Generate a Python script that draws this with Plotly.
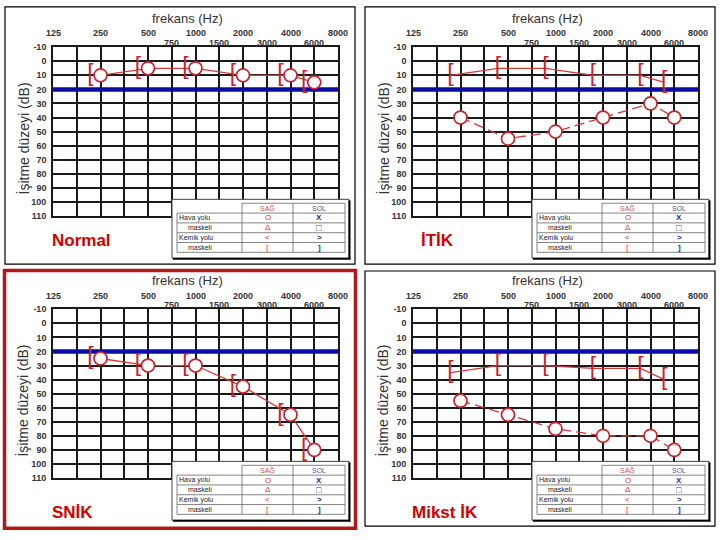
import math
import plotly.graph_objects as go

W, H = 720, 540

# ---------------- data ----------------
PANEL_TITLES = ["Normal", "İTİK", "SNİK", "Mikst İK"]
AIR_FREQS = [250, 500, 1000, 2000, 4000, 6000]
NORMAL_AIR = [10, 5, 5, 10, 10, 15]
NORMAL_BONE = [10, 5, 5, 10, 10, 15]
ITIK_AIR = [40, 55, 50, 40, 30, 40]
ITIK_BONE = [10, 5, 5, 10, 10, 15]
SNIK_AIR = [25, 30, 30, 45, 65, 90]
SNIK_BONE = [25, 30, 30, 45, 65, 90]
MIKST_AIR = [55, 65, 75, 80, 80, 90]
MIKST_BONE = [35, 30, 30, 32, 32, 40]
LIMIT_DB = 20
FREQ_TOP = [125, 250, 500, 1000, 2000, 4000, 8000]
FREQ_BOTTOM = [750, 1500, 3000, 6000]
DB_TICKS = list(range(-10, 111, 10))
LEGEND_HEAD = ["SAĞ", "SOL"]
LEGEND_ROWS = ["Hava yolu", "maskeli", "Kemik yolu", "maskeli"]
LEGEND_RIGHT = ["O", "Δ", "<", "["]
LEGEND_LEFT = ["X", "□", ">", "]"]

AIRS = [NORMAL_AIR, ITIK_AIR, SNIK_AIR, MIKST_AIR]
BONES = [NORMAL_BONE, ITIK_BONE, SNIK_BONE, MIKST_BONE]
AIR_DASH = ["solid", "10px,5px", "solid", "10px,5px"]
BONE_LINE = [False, True, False, True]

# ---------------- style / layout ----------------
FONT = "Liberation Sans, Arial, sans-serif"
RED = "#c8232b"
LINE_RED = "#cf3a3a"
BLUE = "#0b0ba8"
GRID = "#1a1a1a"
OFFSETS = [(0, 0), (360, 0), (0, 267), (360, 267)]


def col(f):
    return round(2 * math.log2(f / 125))


def px(x):
    return x / W


def py(y):
    return 1 - y / H


def note(x, y, text, size, color, xref="paper", xanchor="center", weight="normal", angle=0):
    return dict(x=x, y=y, xref=xref, yref="paper", text=text, showarrow=False,
                xanchor=xanchor, yanchor="middle", borderpad=0, textangle=angle,
                font=dict(family=FONT, size=size, color=color, weight=weight))


fig = go.Figure()
shapes = []
annotations = []
layout_axes = {}

for i in range(4):
    dx, dy = OFFSETS[i]
    sfx = "" if i == 0 else str(i + 1)
    xa, ya = "x" + sfx, "y" + sfx
    gx0, gx1 = 53 + dx, 338 + dx
    gy0, gy1 = 43 + dy, 215 + dy

    layout_axes["xaxis" + sfx] = dict(
        domain=[px(gx0), px(gx1)], anchor=ya, range=[0, 12],
        tickvals=list(range(0, 13)), showticklabels=False, ticks="",
        showgrid=True, gridcolor=GRID, gridwidth=1.6, zeroline=False,
        showline=True, mirror=True, linecolor=GRID, linewidth=1.6, fixedrange=True,
    )
    layout_axes["yaxis" + sfx] = dict(
        domain=[py(gy1), py(gy0)], anchor=xa, range=[110, -10],
        tickvals=DB_TICKS, ticktext=[str(v) for v in DB_TICKS], ticks="",
        tickfont=dict(family=FONT, size=9, color="#333", weight="bold"),
        ticklabelstandoff=3,
        showgrid=True, gridcolor=GRID, gridwidth=1.6, zeroline=False,
        showline=True, mirror=True, linecolor=GRID, linewidth=1.6, fixedrange=True,
    )

    xs = [col(f) for f in AIR_FREQS]
    xb = [col(f) - 0.42 for f in AIR_FREQS]

    # 20 dB reference line
    fig.add_trace(go.Scatter(
        x=[col(FREQ_TOP[0]), col(FREQ_TOP[-1])], y=[LIMIT_DB, LIMIT_DB],
        xaxis=xa, yaxis=ya, mode="lines",
        line=dict(color=BLUE, width=4.5), hoverinfo="skip", showlegend=False))
    # bone conduction line
    if BONE_LINE[i]:
        fig.add_trace(go.Scatter(
            x=xb, y=BONES[i], xaxis=xa, yaxis=ya, mode="lines",
            line=dict(color=LINE_RED, width=1.3), showlegend=False))
    # air conduction
    fig.add_trace(go.Scatter(
        x=xs, y=AIRS[i], xaxis=xa, yaxis=ya, mode="lines+markers",
        line=dict(color=LINE_RED, width=1.3, dash=AIR_DASH[i]),
        marker=dict(symbol="circle", size=13, color="white",
                    line=dict(color=RED, width=1.7)),
        showlegend=False))
    # masked bone brackets
    fig.add_trace(go.Scatter(
        x=xb, y=BONES[i], xaxis=xa, yaxis=ya, mode="text",
        text=["["] * len(xb), textposition="middle center",
        textfont=dict(family=FONT, size=23, color=RED), showlegend=False))

    # panel titles / labels
    annotations.append(note(px(187 + dx), py(14 + dy), "frekans (Hz)", 13, "#333"))
    annotations.append(note(px(23 + dx), py(136 + dy), "İşitme düzeyi (dB)", 14, "#333", angle=-90))
    for f in FREQ_TOP:
        annotations.append(note(col(f), py(29 + dy), str(f), 9, "#333", xref=xa, weight="bold"))
    for f in FREQ_BOTTOM:
        annotations.append(note(col(f), py(39 + dy), str(f), 9, "#333", xref=xa, weight="bold"))
    annotations.append(note(px(51 + dx + (9 if i == 1 else 0)), py(240 + dy + (10 if i >= 2 else 0)),
                            PANEL_TITLES[i], 17, "#d10000", xanchor="left", weight="bold"))

    # legend table
    tx0, tx1, ty0, ty1 = 172 + dx, 349 + dx, 198 + dy, 258 + dy
    shapes.append(dict(type="rect", xref="paper", yref="paper", layer="above",
                       x0=px(tx0), x1=px(tx1), y0=py(ty1), y1=py(ty0),
                       fillcolor="white", line=dict(color="#444", width=1)))
    shapes.append(dict(type="line", xref="paper", yref="paper", layer="above",
                       x0=px(tx1 + 0.5), x1=px(tx1 + 0.5), y0=py(ty0 + 1), y1=py(ty1 + 1),
                       line=dict(color="black", width=2)))
    shapes.append(dict(type="line", xref="paper", yref="paper", layer="above",
                       x0=px(tx0 + 1), x1=px(tx1 + 1.5), y0=py(ty1 + 0.5), y1=py(ty1 + 0.5),
                       line=dict(color="black", width=2)))
    cx = [177 + dx, 242 + dx, 293 + dx, 345 + dx]
    ry = [202 + dy, 212 + dy, 222 + dy, 232 + dy, 242 + dy, 252 + dy]
    tl = dict(color="#666", width=0.8)
    shapes.append(dict(type="line", xref="paper", yref="paper", layer="above",
                       x0=px(cx[1]), x1=px(cx[3]), y0=py(ry[0]), y1=py(ry[0]), line=tl))
    for r in ry[1:]:
        shapes.append(dict(type="line", xref="paper", yref="paper", layer="above",
                           x0=px(cx[0]), x1=px(cx[3]), y0=py(r), y1=py(r), line=tl))
    shapes.append(dict(type="line", xref="paper", yref="paper", layer="above",
                       x0=px(cx[0]), x1=px(cx[0]), y0=py(ry[1]), y1=py(ry[5]), line=tl))
    for c in cx[1:]:
        shapes.append(dict(type="line", xref="paper", yref="paper", layer="above",
                           x0=px(c), x1=px(c), y0=py(ry[0]), y1=py(ry[5]), line=tl))
    mid1 = (cx[1] + cx[2]) / 2
    mid2 = (cx[2] + cx[3]) / 2
    hy = py((ry[0] + ry[1]) / 2)
    annotations.append(note(px(mid1), hy, LEGEND_HEAD[0], 7, "#d05050"))
    annotations.append(note(px(mid2), hy, LEGEND_HEAD[1], 7, "#4a5a9a"))
    for k, lab in enumerate(LEGEND_ROWS):
        yc = py((ry[k + 1] + ry[k + 2]) / 2)
        indent = 10 if lab == "maskeli" else 1
        annotations.append(note(px(cx[0] + indent), yc, lab, 7, "#222", xanchor="left"))
        annotations.append(note(px(mid1), yc, LEGEND_RIGHT[k], 8, "#d03030"))
        annotations.append(note(px(mid2), yc, LEGEND_LEFT[k], 9 if k == 1 else 8, "#1d2a9c", weight="bold"))

# panel frames
shapes.append(dict(type="rect", xref="paper", yref="paper", layer="above",
                   x0=px(5), x1=px(355), y0=py(264), y1=py(2), line=dict(color="black", width=1.2)))
shapes.append(dict(type="rect", xref="paper", yref="paper", layer="above",
                   x0=px(365), x1=px(715), y0=py(264), y1=py(2), line=dict(color="black", width=1.2)))
shapes.append(dict(type="rect", xref="paper", yref="paper", layer="above",
                   x0=px(4.5), x1=px(355.5), y0=py(533), y1=py(270.5), line=dict(color="#b0181c", width=3.5)))
shapes.append(dict(type="rect", xref="paper", yref="paper", layer="above",
                   x0=px(365), x1=px(715), y0=py(531), y1=py(271), line=dict(color="black", width=1.2)))

fig.update_layout(
    width=W, height=H, autosize=False,
    margin=dict(l=0, r=0, t=0, b=0),
    paper_bgcolor="white", plot_bgcolor="white",
    showlegend=False, shapes=shapes, annotations=annotations,
    font=dict(family=FONT),
    **layout_axes,
)

fig.write_html(
    "out.html",
    config={"displayModeBar": False},
    post_script="document.body.style.margin='0px';document.body.style.padding='0px';"
                "document.body.style.overflow='hidden';",
)
